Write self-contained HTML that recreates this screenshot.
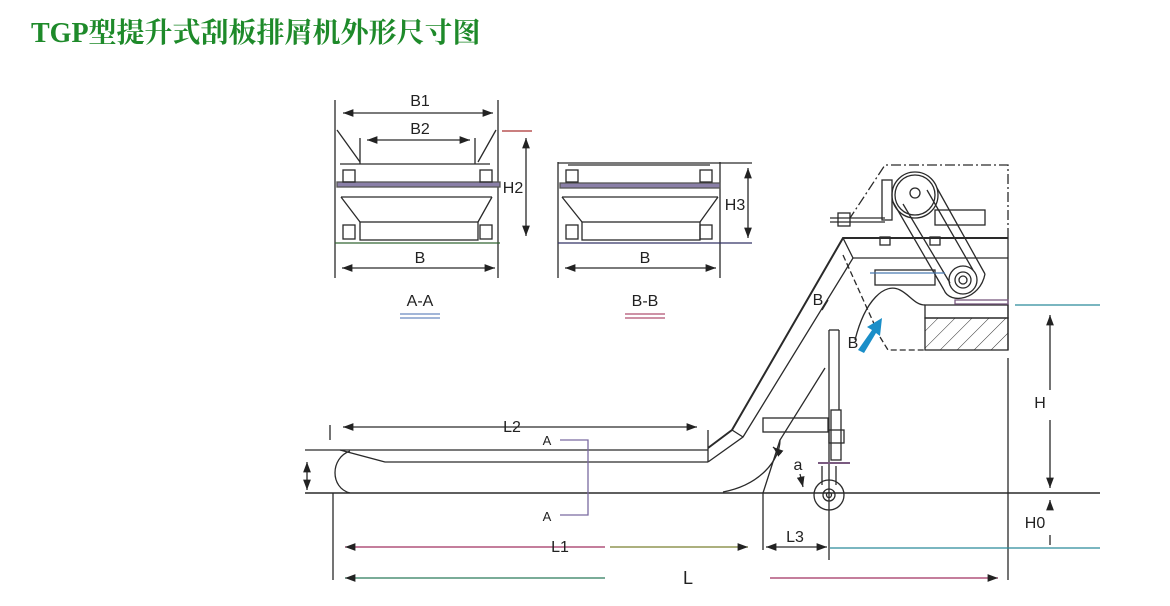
<!DOCTYPE html>
<html><head><meta charset="utf-8"><style>
html,body{margin:0;padding:0;background:#fff;width:1170px;height:606px;overflow:hidden}
.t{position:absolute;left:31px;top:11px;font-family:"Liberation Serif","Noto Serif CJK SC",serif;font-weight:bold;font-size:28px;color:#1e8a2a;white-space:nowrap}
svg{position:absolute;left:0;top:0}
text{font-family:"Liberation Sans",sans-serif;font-size:16px;fill:#222}
</style></head><body>
<div class="t">TGP型提升式刮板排屑机外形尺寸图</div>
<svg width="1170" height="606" viewBox="0 0 1170 606">
<defs>
<marker id="ar" markerWidth="8" markerHeight="6" refX="8" refY="3" orient="auto"><path d="M0,0 L8,3 L0,6z" fill="#222"/></marker>
<marker id="al" markerWidth="8" markerHeight="6" refX="0" refY="3" orient="auto"><path d="M8,0 L0,3 L8,6z" fill="#222"/></marker>
<pattern id="h" width="12" height="12" patternUnits="userSpaceOnUse" patternTransform="rotate(45)"><line x1="0" y1="0" x2="0" y2="12" stroke="#333" stroke-width="1"/></pattern>
</defs>
<g stroke="#2a2a2a" stroke-width="1.3" fill="none">
<!-- A-A -->
<line x1="335" y1="100" x2="335" y2="278"/><line x1="498" y1="100" x2="498" y2="278"/>
<line x1="343" y1="113" x2="493" y2="113" marker-start="url(#al)" marker-end="url(#ar)"/>
<line x1="367" y1="140" x2="470" y2="140" marker-start="url(#al)" marker-end="url(#ar)"/>
<line x1="502" y1="131" x2="532" y2="131" stroke="#a33"/>
<line x1="526" y1="138" x2="526" y2="236" marker-start="url(#al)" marker-end="url(#ar)"/>
<line x1="335" y1="243" x2="500" y2="243" stroke="#363"/>
<line x1="342" y1="268" x2="495" y2="268" marker-start="url(#al)" marker-end="url(#ar)"/>
<line x1="337" y1="130" x2="360" y2="162"/><line x1="496" y1="130" x2="478" y2="162"/>
<line x1="360" y1="138" x2="360" y2="164"/><line x1="475" y1="138" x2="475" y2="164"/>
<line x1="340" y1="164" x2="490" y2="164"/>
<rect x="337" y="182" width="163" height="5" fill="#8a7fa8" stroke="#555"/>
<line x1="341" y1="197" x2="492" y2="197"/>
<path d="M341,197 L360,222 M492,197 L478,222"/>
<rect x="360" y="222" width="118" height="18"/>
<rect x="343" y="170" width="12" height="12"/><rect x="480" y="170" width="12" height="12"/>
<rect x="343" y="225" width="12" height="14"/><rect x="480" y="225" width="12" height="14"/>
<line x1="400" y1="314" x2="440" y2="314" stroke="#6a8ac0"/><line x1="400" y1="318" x2="440" y2="318" stroke="#6a8ac0"/>
<!-- B-B -->
<line x1="558" y1="162" x2="558" y2="278"/><line x1="720" y1="162" x2="720" y2="278"/>
<line x1="558" y1="163" x2="752" y2="163"/>
<line x1="748" y1="168" x2="748" y2="238" marker-start="url(#al)" marker-end="url(#ar)"/>
<line x1="558" y1="243" x2="752" y2="243" stroke="#336"/>
<line x1="565" y1="268" x2="716" y2="268" marker-start="url(#al)" marker-end="url(#ar)"/>
<line x1="568" y1="165" x2="710" y2="165"/>
<rect x="560" y="183" width="160" height="5" fill="#8a7fa8" stroke="#555"/>
<line x1="562" y1="197" x2="718" y2="197"/>
<path d="M562,197 L582,222 M718,197 L700,222"/>
<rect x="582" y="222" width="118" height="18"/>
<rect x="566" y="170" width="12" height="12"/><rect x="700" y="170" width="12" height="12"/>
<rect x="566" y="225" width="12" height="14"/><rect x="700" y="225" width="12" height="14"/>
<line x1="625" y1="314" x2="665" y2="314" stroke="#b05070"/><line x1="625" y1="318" x2="665" y2="318" stroke="#b05070"/>
<!-- main -->
<line x1="305" y1="493" x2="1100" y2="493" stroke-width="1.6"/>
<line x1="305" y1="450" x2="708" y2="450"/>
<path d="M340,450 L385,462 L708,462"/>
<path d="M350,451 C330,458 330,488 350,493"/>
<line x1="330" y1="425" x2="330" y2="440"/>
<line x1="343" y1="427" x2="697" y2="427" marker-start="url(#al)" marker-end="url(#ar)"/>
<line x1="307" y1="462" x2="307" y2="490" marker-start="url(#al)" marker-end="url(#ar)"/>
<line x1="708" y1="430" x2="708" y2="462"/>
<path d="M708,448 L732,430 L843,238 L1008,238" stroke-width="2"/>
<path d="M708,462 L743,437 L853,258 L1008,258"/>
<line x1="732" y1="430" x2="743" y2="437"/>
<line x1="843" y1="238" x2="853" y2="258"/>
<path d="M723,492 C760,485 780,460 780,440 L825,368"/>
<path d="M780,440 L763,493 L763,550"/>
<rect x="763" y="418" width="65" height="14"/>
<line x1="829" y1="330" x2="829" y2="560"/><line x1="839" y1="330" x2="839" y2="410"/><line x1="829" y1="330" x2="839" y2="330"/>
<rect x="831" y="410" width="10" height="50"/>
<rect x="829" y="430" width="15" height="13"/>
<line x1="818" y1="463" x2="850" y2="463" stroke-width="2" stroke="#7a5a80"/>
<circle cx="829" cy="495" r="15"/><circle cx="829" cy="495" r="6"/><circle cx="829" cy="495" r="2.5"/>
<path d="M822,466 L822,485 M836,466 L836,485"/>
<path d="M1008,238 L1008,350 M1008,358 L1008,580"/>
<path d="M1008,238 L1008,165 L885,165 L850,218" stroke-dasharray="10,3,2,3"/>
<path d="M855,340 C865,300 885,282 900,290 C910,295 915,305 925,305"/>
<path d="M880,337 L888,350 L925,350" stroke-dasharray="6,3"/>
<path d="M843,255 L880,337" stroke-dasharray="6,3"/>
<rect x="925" y="305" width="83" height="13"/>
<rect x="925" y="318" width="83" height="32" fill="url(#h)"/>
<!-- motor -->
<circle cx="915" cy="195" r="23"/><circle cx="915" cy="195" r="20"/><circle cx="915" cy="193" r="5"/>
<circle cx="963" cy="280" r="14"/><circle cx="963" cy="280" r="8"/><circle cx="963" cy="280" r="4"/>
<path d="M893,202 L944,290 M937,188 L985,274"/>
<path d="M903,204 L950,283 M927,190 L973,270"/>
<path d="M944,290 C950,305 980,300 985,274"/>
<rect x="882" y="180" width="10" height="40"/>
<rect x="935" y="210" width="50" height="15"/>
<path d="M830,218 L885,218 M830,222 L885,222"/>
<rect x="838" y="213" width="12" height="13"/>
<rect x="875" y="270" width="60" height="15"/>
<line x1="870" y1="273" x2="945" y2="273" stroke="#4a7ab0"/>
<rect x="880" y="237" width="10" height="8"/><rect x="930" y="237" width="10" height="8"/>
<rect x="955" y="300" width="53" height="4" stroke="#7a5a80"/>
<!-- dims -->
<line x1="1015" y1="305" x2="1100" y2="305" stroke="#2a8a9a"/>
<line x1="1050" y1="315" x2="1050" y2="390" marker-start="url(#al)"/>
<line x1="1050" y1="420" x2="1050" y2="488" marker-end="url(#ar)"/>
<line x1="1050" y1="500" x2="1050" y2="510" marker-start="url(#al)"/>
<line x1="1050" y1="535" x2="1050" y2="545"/>
<line x1="830" y1="548" x2="1100" y2="548" stroke="#2a8a9a"/>
<line x1="333" y1="493" x2="333" y2="580"/>
<line x1="345" y1="547" x2="605" y2="547" marker-start="url(#al)" stroke="#a03060"/>
<line x1="610" y1="547" x2="748" y2="547" marker-end="url(#ar)" stroke="#7a8030"/>
<line x1="766" y1="547" x2="827" y2="547" marker-start="url(#al)" marker-end="url(#ar)"/>
<line x1="345" y1="578" x2="605" y2="578" marker-start="url(#al)" stroke="#2a7a5a"/>
<line x1="770" y1="578" x2="998" y2="578" marker-end="url(#ar)" stroke="#a03060"/>
<path d="M560,440 L588,440 L588,515 L560,515" stroke="#7a6aa0"/>
<line x1="780" y1="453" x2="773" y2="447" marker-end="url(#ar)"/>
<line x1="800" y1="474" x2="803" y2="487" marker-end="url(#ar)"/>
<line x1="828" y1="300" x2="822" y2="310"/>
</g>
<path d="M858,350 L872,330 L867,327 L882,318 L880,336 L876,333 L864,353z" fill="#1a8ec8"/>
<text x="420" y="106" text-anchor="middle">B1</text>
<text x="420" y="134" text-anchor="middle">B2</text>
<text x="513" y="193" text-anchor="middle">H2</text>
<text x="420" y="263" text-anchor="middle">B</text>
<text x="420" y="306" text-anchor="middle">A-A</text>
<text x="735" y="210" text-anchor="middle">H3</text>
<text x="645" y="263" text-anchor="middle">B</text>
<text x="645" y="306" text-anchor="middle">B-B</text>
<text x="512" y="432" text-anchor="middle">L2</text>
<text x="547" y="445" text-anchor="middle" style="font-size:13px">A</text>
<text x="547" y="521" text-anchor="middle" style="font-size:13px">A</text>
<text x="560" y="552" text-anchor="middle">L1</text>
<text x="795" y="542" text-anchor="middle">L3</text>
<text x="688" y="584" text-anchor="middle" style="font-size:18px">L</text>
<text x="798" y="470" text-anchor="middle">a</text>
<text x="818" y="305" text-anchor="middle">B</text>
<text x="853" y="348" text-anchor="middle">B</text>
<text x="1040" y="408" text-anchor="middle">H</text>
<text x="1035" y="528" text-anchor="middle">H0</text>
</svg>
</body></html>
